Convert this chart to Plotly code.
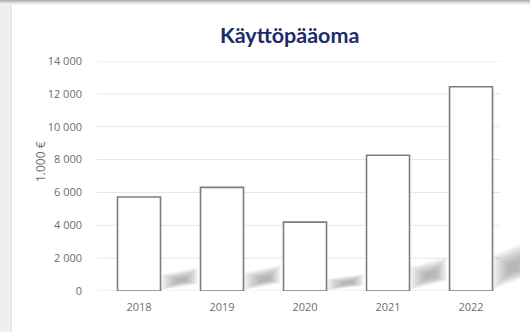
import plotly.graph_objects as go

# Working capital, thousands of euros
years = ["2018", "2019", "2020", "2021", "2022"]
values = [5720, 6310, 4190, 8260, 12430]
tick_vals = [0, 2000, 4000, 6000, 8000, 10000, 12000, 14000]
tick_text = ["0", "2 000", "4 000", "6 000", "8 000",
             "10 000", "12 000", "14 000"]
title_text = "Käyttöpääoma"
unit_text = "1.000 €"

W, H = 530, 332
ML, MR, MT, MB = 97, 10, 61, 41
PW, PH = W - ML - MR, H - MT - MB
GRID_END = 500  # gridlines stop short of the plot's right edge


def px_x(p):
    return (p - ML) / PW


def px_y(p):
    return (H - MB - p) / PH


fig = go.Figure(
    go.Bar(
        x=years,
        y=values,
        marker=dict(color="white", line=dict(color="#7d7d7d", width=1.6)),
        hoverinfo="x+y",
    )
)

shapes = []
# page background strips and card edge shadow
shapes.append(dict(type="rect", xref="paper", yref="paper", layer="below",
                   x0=px_x(0), x1=px_x(11), y0=px_y(H), y1=px_y(0),
                   fillcolor="#efefef", line_width=0))
shapes.append(dict(type="line", xref="paper", yref="paper", layer="below",
                   x0=px_x(11.5), x1=px_x(11.5), y0=px_y(H), y1=px_y(4),
                   line=dict(color="#e2e2e2", width=1)))
for k, c in enumerate(["#b4b4b4", "#c6c6c6", "#d8d8d8", "#e8e8e8", "#f4f4f4"]):
    shapes.append(dict(type="rect", xref="paper", yref="paper", layer="below",
                       x0=px_x(0), x1=px_x(W), y0=px_y(k + 1), y1=px_y(k),
                       fillcolor=c, line_width=0))

# horizontal gridlines at the tick values
for tv in tick_vals:
    shapes.append(dict(type="line", xref="paper", yref="y", layer="below",
                       x0=0, x1=px_x(GRID_END), y0=tv, y1=tv,
                       line=dict(color="#e6e6e6", width=1)))

# soft floor shadows to the right of each bar, built from concentric layers
half = 0.259
n_layers = 9
for i, v in enumerate(values):
    r = i + half
    w = 0.45
    h = 0.25 * v
    base = [(r, 0.03 * h), (r, 0.7 * h), (r + w, h), (r + w, 0.3 * h)]
    cx = sum(p[0] for p in base) / 4 + 0.04
    cy = sum(p[1] for p in base) / 4 - 0.05 * h
    for k in range(n_layers):
        s = 1.0 - 0.09 * k
        pts = [(cx + (px - cx) * s, cy + (py - cy) * s) for px, py in base]
        pts = [(max(px, r), max(py, 0)) for px, py in pts]
        path = "M " + " L ".join(f"{px},{py}" for px, py in pts) + " Z"
        shapes.append(dict(type="path", xref="x", yref="y", layer="below",
                           path=path, fillcolor="rgba(105,105,105,0.065)",
                           line_width=0))

fig.update_layout(
    width=W,
    height=H,
    margin=dict(l=ML, r=MR, t=MT, b=MB),
    paper_bgcolor="#ffffff",
    plot_bgcolor="rgba(0,0,0,0)",
    showlegend=False,
    bargap=0.482,
    shapes=shapes,
    font=dict(family="Open Sans", color="#6e6e6e", size=11),
    xaxis=dict(
        type="category",
        range=[-0.506, 4.59],
        showgrid=False,
        showline=False,
        zeroline=False,
        ticks="",
        ticklabelstandoff=8,
        tickfont=dict(size=11, color="#6e6e6e"),
    ),
    yaxis=dict(
        range=[0, 14000],
        tickvals=tick_vals,
        ticktext=tick_text,
        showgrid=False,
        zeroline=False,
        showline=False,
        ticks="",
        ticklabelstandoff=14,
        tickfont=dict(size=11, color="#6e6e6e"),
    ),
    annotations=[
        dict(text=f"<b>{title_text}</b>", xref="paper", yref="paper",
             x=px_x(289), y=px_y(35), xanchor="center", yanchor="middle",
             showarrow=False,
             font=dict(family="Lato", size=21.5, color="#1d2a6b")),
        dict(text=unit_text, xref="paper", yref="paper",
             x=px_x(40), y=px_y(162), xanchor="center", yanchor="middle",
             textangle=-90, showarrow=False,
             font=dict(family="Open Sans", size=12, color="#6e6e6e")),
    ],
)

fig.write_html("out.html")
